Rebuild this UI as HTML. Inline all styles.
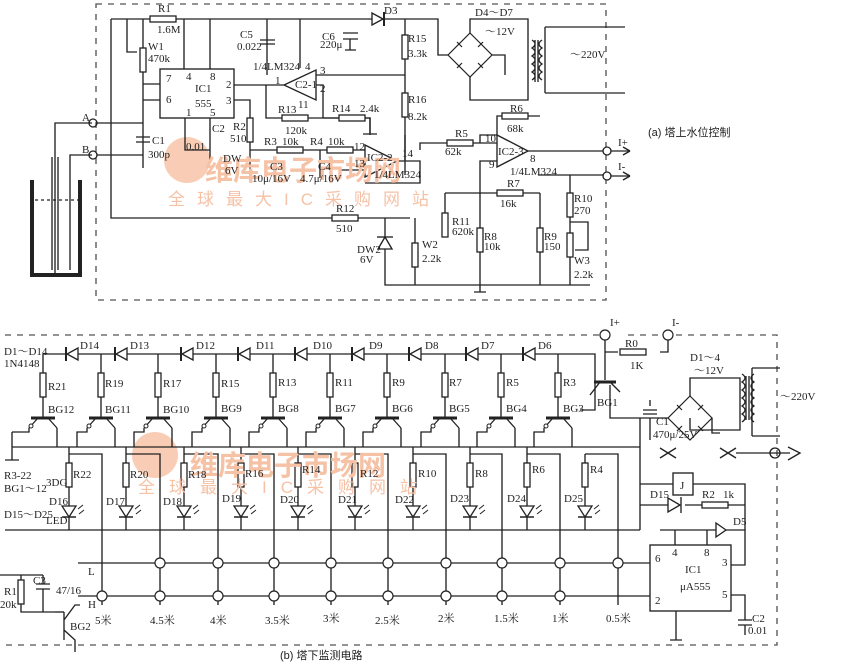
<!DOCTYPE html>
<html><head><meta charset="utf-8"><style>
html,body{margin:0;padding:0;background:#fff;}
svg{display:block;}
text{font-family:"Liberation Serif","Noto Serif CJK SC",serif;font-size:11px;fill:#222;}
.cj{font-family:"Liberation Sans","Noto Sans CJK SC",sans-serif;}
.wm{fill:#f6c2a6;font-family:"Liberation Sans","Noto Sans CJK SC",sans-serif;}
</style></head><body>
<svg width="850" height="662" viewBox="0 0 850 662" xmlns="http://www.w3.org/2000/svg">
<defs>
<g id="rv"><rect x="-3" y="-12" width="6" height="24" fill="#fff" stroke="#222" stroke-width="1.3"/></g>
<g id="rh"><rect x="-13" y="-3" width="26" height="6" fill="#fff" stroke="#222" stroke-width="1.3"/></g>
<g id="dl"><polygon points="6,-6 6,6 -5,0" fill="#fff" stroke="#222" stroke-width="1.3"/><line x1="-6" y1="-7" x2="-6" y2="7" stroke="#222" stroke-width="2"/></g>
<g id="led"><polygon points="-7,-5 7,-5 0,6" fill="#fff" stroke="#222" stroke-width="1.3"/><line x1="-7" y1="6" x2="7" y2="6" stroke="#222" stroke-width="1.5"/><path d="M9,-2 l5,-4 M10,3 l5,-4" stroke="#222" stroke-width="1"/></g>
<g id="npn"><line x1="-12" y1="0" x2="12" y2="0" stroke="#222" stroke-width="3"/><path d="M-5,0 L-14,10 M5,0 L14,10" stroke="#222" stroke-width="1.3" fill="none"/><circle cx="-12" cy="8" r="2" fill="#fff" stroke="#222"/></g>
<g id="oc"><circle r="5" fill="#fff" stroke="#222" stroke-width="1.2"/></g>
<g id="br"><polygon points="0,-22 22,0 0,22 -22,0" fill="none" stroke="#222" stroke-width="1.2"/><g stroke="#222" stroke-width="1.2"><path d="M-13,-13 l5,5 M13,-13 l-5,5 M-13,13 l5,-5 M13,13 l-5,-5"/></g></g>
</defs>
<!-- watermark logos -->
<circle cx="187" cy="160" r="23" fill="#f9cdb5"/>
<circle cx="155" cy="455" r="23" fill="#f9cdb5"/>
<g stroke="#222" stroke-width="1.35" fill="none">
<!-- ===== Part (a) ===== -->
<rect x="96" y="4" width="510" height="296" stroke-dasharray="6,6" stroke="#555"/>
<path d="M111,19 H372 M384,19 H405"/>
<path d="M405,19 V170 M405,170 V175"/>
<path d="M111,19 V218 H410 M405,218"/>
<path d="M127,19 V52 H137 M143,19 V125"/>
<path d="M143,84 H160 M143,100 H160"/>
<path d="M184,19 V69 M210,19 V69"/>
<rect x="160" y="69" width="74" height="49"/>
<path d="M234,85 H284 M266,85 V118 H290 M323,118 V85 H316 M323,118 H370 V135"/>
<path d="M234,100 H250 V118 V150"/>
<path d="M185,118 V150 H210 M210,118 V160"/>
<path d="M267,19 V75 M300,19 V68"/>
<path d="M143,125 V168 M143,140 V168"/>
<polygon points="284,85 316,70 316,100" fill="#fff"/>
<path d="M316,75 H405"/>
<path d="M260,40 H275 M260,44 H275"/>
<path d="M343,33 H358 M343,39 H358 M350,39 V50 M345,50 H356"/>
<polygon points="372,13 372,25 383,19" fill="#fff"/><path d="M384,12 V26" stroke-width="2"/>
<path d="M405,19 H438 V55 H448 M470,33 V19 H528 V100 H470 V77 M492,55 H505 V75"/>
<path d="M545,27 V93 M545,27 H625 M545,93 H625"/>
<path d="M532,40 q6,4 0,8 q6,4 0,8 q6,4 0,8 q6,4 0,8 q6,4 0,8 M542,40 q-6,4 0,8 q-6,4 0,8 q-6,4 0,8 q-6,4 0,8 q-6,4 0,8 M535,40 V82 M538,40 V82"/>
<path d="M300,118 H370 V134 M363,134 H377"/>
<path d="M250,150 H365 M250,150 V180 M320,150 V178"/>
<polygon points="365,145 365,177 397,161" fill="#fff"/>
<path d="M397,161 H420 V183 H365 M340,170 H365 M405,135 V160"/>
<path d="M420,150 V143 H480 M480,143 V135 H497 V116 H540 M480,143 H497"/>
<polygon points="497,135 497,167 528,151" fill="#fff"/>
<path d="M528,151 H603 M611,151 H630 M611,176 H630 M497,161 H480 V285"/>
<path d="M538,175 H603 M570,175 V285 M540,193 V285 M445,193 H540 M445,193 V220"/>
<path d="M385,218 V285 H590 M415,218 V285 M570,222 H588 V250 H575"/>
<path d="M480,285 V292 M474,292 H486"/>
<circle cx="607" cy="151" r="4" fill="#fff"/><circle cx="607" cy="176" r="4" fill="#fff"/>
<path d="M630,151 l-7,-4 M630,151 l-7,4 M630,176 l-7,-4 M630,176 l-7,4"/>
<path d="M92,123 H55 V275 M92,155 H70 V270"/>
<path d="M32,180 V275 H80 V180" stroke-width="4"/>
<path d="M52,157 V270 M58,157 V270"/>
<path d="M35,200 H78" stroke-dasharray="3,3"/>
<circle cx="93" cy="123" r="4"/><circle cx="93" cy="155" r="4"/>
<path d="M97,123 H143 M97,155 H143"/>
<path d="M136,137 H150 M136,142 H150"/>
<polygon points="385,237 378,249 392,249" fill="#fff"/><path d="M377,237 H393"/>

<!-- ===== Part (b) ===== -->
<path d="M5,335 H610 M628,335 H777 V645 H0" stroke-dasharray="6,6" stroke="#555"/>
<path d="M43,354 H595 V410 H580"/>
<path d="M43,354 V418 M101,354 V418 M158,354 V418 M216,354 V418 M273,354 V418 M330,354 V418 M387,354 V418 M445,354 V418 M501,354 V418 M558,354 V418"/>
<path d="M12,447 H640 M12,432 V460 M5,460 H19"/>
<path d="M57,428 V447 M115,428 V447 M172,428 V447 M230,428 V447 M287,428 V447 M344,428 V447 M401,428 V447 M459,428 V447 M515,428 V447 M572,428 V447"/>
<path d="M29,428 V432 H12 M87,428 V432 H77 V447 M144,428 V432 H134 V447 M202,428 V432 H192 V447 M259,428 V432 H249 V447 M316,428 V432 H306 V447 M373,428 V432 H363 V447 M431,428 V432 H421 V447 M487,428 V432 H477 V447 M544,428 V432 H534 V447"/>
<path d="M69,447 V530 M126,447 V530 M184,447 V530 M241,447 V530 M298,447 V530 M355,447 V530 M413,447 V530 M470,447 V530 M527,447 V530 M585,454 V530"/>
<path d="M5,530 H640"/>
<path d="M69,454 H102 V605 M126,454 H160 V605 M184,454 H218 V605 M241,454 H274 V605 M298,454 H331 V605 M355,454 H388 V605 M413,454 H446 V605 M470,454 H502 V605 M527,454 H560 V605 M585,454 H618 V605"/>
<path d="M78,563 H650 M78,596 H650 M0,575 H43"/>
<rect x="650" y="545" width="81" height="66"/>
<path d="M675,530 V545 M707,530 V545 M660,530 H745 V565 H731 M731,595 H745 V620 M738,620 H752 M738,625 H752 M745,625 V635 M676,611 V640 M670,640 H682"/>
<path d="M605,335 V380 M605,352 H618 M660,352 H668 V335 M610,385 V418 H625 M625,418 H665 M640,418 V530 M640,484 H673 M693,484 H745 V530 M640,505 H668 M685,505 H745"/>
<line x1="594" y1="382" x2="616" y2="382" stroke-width="3"/>
<path d="M600,382 L590,395 M610,382 L620,392"/>
<path d="M650,418 V440 M643,410 H657 M643,414 H657 M650,400 V406"/>
<path d="M665,418 H668 M712,418 V433 H720 M690,396 V378 H740 V430 H690 V418"/>
<path d="M752,368 V436 M752,368 H780 M752,436 H780"/>
<path d="M742,374 q6,4 0,8 q6,4 0,8 q6,4 0,8 q6,4 0,8 q6,4 0,8 q6,4 0,8 M754,374 q-6,4 0,8 q-6,4 0,8 q-6,4 0,8 q-6,4 0,8 q-6,4 0,8 q-6,4 0,8 M746,376 V420 M749,376 V420"/>
<rect x="673" y="473" width="20" height="22" fill="#fff"/>
<polygon points="668,498 668,512 680,505" fill="#fff"/><path d="M681,497 V513"/>
<polygon points="726,530 716,523 716,537" fill="#fff"/>
<path d="M660,448 L676,458 M660,458 L676,448 M720,448 L736,458 M720,458 L736,448 M736,453 H790 M788,447 L800,453 L788,460"/>
<circle cx="775" cy="453" r="5"/>
<path d="M21,575 V612 H55 M43,575 V584 M36,584 H50 M36,589 H50 M43,589 V612 M64,612 V640 M64,620 L75,605 H80 M64,630 L75,640 V652"/>
<path d="M55,612 H64"/>
</g>
<g>
<use href="#rh" x="163" y="19"/><use href="#rv" x="143" y="60"/>
<use href="#rv" x="405" y="47"/><use href="#rv" x="405" y="105"/>
<use href="#rh" x="295" y="118"/><use href="#rh" x="352" y="118"/>
<use href="#rv" x="250" y="130"/><use href="#rh" x="290" y="150"/><use href="#rh" x="340" y="150"/>
<use href="#rh" x="460" y="143"/><use href="#rh" x="515" y="116"/><use href="#rh" x="510" y="193"/>
<use href="#rh" x="345" y="218"/><use href="#rv" x="445" y="225"/><use href="#rv" x="480" y="240"/>
<use href="#rv" x="540" y="240"/><use href="#rv" x="570" y="205"/><use href="#rv" x="570" y="245"/>
<use href="#rv" x="415" y="255"/>
<use href="#br" x="470" y="55"/><use href="#br" x="690" y="418"/>
<use href="#dl" x="72" y="354"/><use href="#dl" x="121" y="354"/><use href="#dl" x="187" y="354"/><use href="#dl" x="244" y="354"/><use href="#dl" x="301" y="354"/><use href="#dl" x="358" y="354"/><use href="#dl" x="415" y="354"/><use href="#dl" x="472" y="354"/><use href="#dl" x="529" y="354"/>
<use href="#rv" x="43" y="385"/><use href="#rv" x="101" y="385"/><use href="#rv" x="158" y="385"/><use href="#rv" x="216" y="385"/><use href="#rv" x="273" y="385"/><use href="#rv" x="330" y="385"/><use href="#rv" x="387" y="385"/><use href="#rv" x="445" y="385"/><use href="#rv" x="501" y="385"/><use href="#rv" x="558" y="385"/>
<use href="#npn" x="43" y="418"/><use href="#npn" x="101" y="418"/><use href="#npn" x="158" y="418"/><use href="#npn" x="216" y="418"/><use href="#npn" x="273" y="418"/><use href="#npn" x="330" y="418"/><use href="#npn" x="387" y="418"/><use href="#npn" x="445" y="418"/><use href="#npn" x="501" y="418"/><use href="#npn" x="558" y="418"/>
<use href="#rv" x="69" y="475"/><use href="#rv" x="126" y="475"/><use href="#rv" x="184" y="475"/><use href="#rv" x="241" y="475"/><use href="#rv" x="298" y="475"/><use href="#rv" x="355" y="475"/><use href="#rv" x="413" y="475"/><use href="#rv" x="470" y="475"/><use href="#rv" x="527" y="475"/><use href="#rv" x="585" y="475"/>
<use href="#led" x="69" y="511"/><use href="#led" x="126" y="511"/><use href="#led" x="184" y="511"/><use href="#led" x="241" y="511"/><use href="#led" x="298" y="511"/><use href="#led" x="355" y="511"/><use href="#led" x="413" y="511"/><use href="#led" x="470" y="511"/><use href="#led" x="527" y="511"/><use href="#led" x="585" y="511"/>
<use href="#oc" x="160" y="563"/><use href="#oc" x="218" y="563"/><use href="#oc" x="274" y="563"/><use href="#oc" x="331" y="563"/><use href="#oc" x="388" y="563"/><use href="#oc" x="446" y="563"/><use href="#oc" x="502" y="563"/><use href="#oc" x="560" y="563"/><use href="#oc" x="618" y="563"/>
<use href="#oc" x="102" y="596"/><use href="#oc" x="160" y="596"/><use href="#oc" x="218" y="596"/><use href="#oc" x="274" y="596"/><use href="#oc" x="331" y="596"/><use href="#oc" x="388" y="596"/><use href="#oc" x="446" y="596"/><use href="#oc" x="502" y="596"/><use href="#oc" x="560" y="596"/>
<use href="#rh" x="633" y="352"/><use href="#rh" x="715" y="505"/><use href="#rv" x="21" y="592"/>
<use href="#oc" x="605" y="335"/><use href="#oc" x="668" y="335"/>
</g>
<text class="wm" x="205" y="180" style="font-size:28px;font-weight:bold">维库电子市场网</text>
<text class="wm" x="168" y="205" style="font-size:17px;letter-spacing:12px">全球最大IC采购网站</text>
<text class="wm" x="190" y="475" style="font-size:28px;font-weight:bold">维库电子市场网</text>
<text class="wm" x="138" y="493" style="font-size:17px;letter-spacing:14px">全球最大IC采购网站</text>
<text x="158" y="12">R1</text><text x="157" y="33">1.6M</text>
<text x="148" y="50">W1</text><text x="148" y="62">470k</text>
<text x="240" y="38">C5</text><text x="237" y="50">0.022</text>
<text x="322" y="40">C6</text><text x="320" y="48">220μ</text>
<text x="384" y="14">D3</text><text x="408" y="42">R15</text><text x="408" y="57">3.3k</text>
<text x="408" y="103">R16</text><text x="408" y="120">8.2k</text>
<text x="475" y="16">D4～D7</text><text x="485" y="35">～12V</text><text x="570" y="58">～220V</text>
<text x="166" y="82">7</text><text x="166" y="103">6</text><text x="186" y="80">4</text><text x="210" y="80">8</text>
<text x="195" y="92">IC1</text><text x="195" y="107">555</text><text x="226" y="88">2</text><text x="226" y="104">3</text>
<text x="186" y="116">1</text><text x="210" y="116">5</text>
<text x="253" y="70">1/4LM324</text><text x="305" y="70">4</text><text x="320" y="74">3</text><text x="320" y="92">2</text>
<text x="275" y="84">1</text><text x="295" y="88">C2-1</text><text x="298" y="108">11</text>
<text x="278" y="113">R13</text><text x="285" y="134">120k</text><text x="332" y="112">R14</text><text x="360" y="112">2.4k</text>
<text x="212" y="132">C2</text><text x="186" y="150">0.01</text><text x="233" y="130">R2</text><text x="230" y="142">510</text>
<text x="152" y="144">C1</text><text x="148" y="158">300p</text><text x="82" y="121">A</text><text x="82" y="153">B</text>
<text x="264" y="145">R3</text><text x="282" y="145">10k</text><text x="310" y="145">R4</text><text x="328" y="145">10k</text>
<text x="223" y="162">DW</text><text x="225" y="174">6V</text><text x="270" y="170">C3</text><text x="252" y="182">10μ/16V</text>
<text x="318" y="170">C4</text><text x="300" y="182">4.7μ/16V</text>
<text x="354" y="150">12</text><text x="354" y="167">13</text><text x="367" y="161">IC2-2</text><text x="402" y="157">14</text><text x="374" y="178">1/4LM324</text>
<text x="455" y="137">R5</text><text x="445" y="155">62k</text><text x="510" y="112">R6</text><text x="507" y="132">68k</text>
<text x="485" y="142">10</text><text x="498" y="155">IC2-3</text><text x="489" y="168">9</text><text x="530" y="162">8</text><text x="510" y="175">1/4LM324</text>
<text x="618" y="146">I+</text><text x="618" y="170">I-</text>
<text x="507" y="187">R7</text><text x="500" y="207">16k</text>
<text x="336" y="212">R12</text><text x="336" y="232">510</text>
<text x="452" y="225">R11</text><text x="452" y="235">620k</text><text x="484" y="240">R8</text><text x="484" y="250">10k</text>
<text x="544" y="240">R9</text><text x="544" y="250">150</text><text x="574" y="202">R10</text><text x="574" y="214">270</text>
<text x="574" y="264">W3</text><text x="574" y="278">2.2k</text><text x="422" y="248">W2</text><text x="422" y="262">2.2k</text>
<text x="357" y="253">DW2</text><text x="360" y="263">6V</text>
<text class="cj" x="648" y="136" style="font-size:11px">(a) 塔上水位控制</text>
<text x="4" y="355">D1～D14</text><text x="4" y="367">1N4148</text>
<text x="80" y="349">D14</text><text x="130" y="349">D13</text><text x="196" y="349">D12</text><text x="256" y="349">D11</text><text x="313" y="349">D10</text><text x="369" y="349">D9</text><text x="425" y="349">D8</text><text x="481" y="349">D7</text><text x="538" y="349">D6</text>
<text x="48" y="390">R21</text><text x="105" y="387">R19</text><text x="163" y="387">R17</text><text x="221" y="387">R15</text><text x="278" y="386">R13</text><text x="335" y="386">R11</text><text x="392" y="386">R9</text><text x="449" y="386">R7</text><text x="506" y="386">R5</text><text x="563" y="386">R3</text>
<text x="48" y="413">BG12</text><text x="105" y="413">BG11</text><text x="163" y="413">BG10</text><text x="221" y="412">BG9</text><text x="278" y="412">BG8</text><text x="335" y="412">BG7</text><text x="392" y="412">BG6</text><text x="449" y="412">BG5</text><text x="506" y="412">BG4</text><text x="563" y="412">BG3</text>
<text x="4" y="479">R3-22</text><text x="4" y="492">BG1～12</text><text x="46" y="486">3DG</text>
<text x="73" y="478">R22</text><text x="130" y="478">R20</text><text x="188" y="478">R18</text><text x="245" y="477">R16</text><text x="302" y="473">R14</text><text x="360" y="477">R12</text><text x="418" y="477">R10</text><text x="475" y="477">R8</text><text x="532" y="473">R6</text><text x="590" y="473">R4</text>
<text x="49" y="505">D16</text><text x="106" y="505">D17</text><text x="163" y="505">D18</text><text x="222" y="502">D19</text><text x="280" y="503">D20</text><text x="338" y="503">D21</text><text x="395" y="503">D22</text><text x="450" y="502">D23</text><text x="507" y="502">D24</text><text x="564" y="502">D25</text>
<text x="4" y="518">D15～D25</text><text x="46" y="524">LED</text>
<text x="88" y="575">L</text><text x="88" y="608">H</text>
<text x="4" y="595">R1</text><text x="0" y="608">20k</text><text x="33" y="584">C3</text><text x="56" y="594">47/16</text><text x="70" y="630">BG2</text>
<text x="95" y="624">5米</text><text x="150" y="624">4.5米</text><text x="210" y="624">4米</text><text x="265" y="624">3.5米</text><text x="323" y="622">3米</text><text x="375" y="624">2.5米</text><text x="438" y="622">2米</text><text x="494" y="622">1.5米</text><text x="552" y="622">1米</text><text x="606" y="622">0.5米</text>
<text x="610" y="326">I+</text><text x="672" y="326">I-</text><text x="625" y="347">R0</text><text x="630" y="369">1K</text>
<text x="690" y="361">D1～4</text><text x="694" y="374">～12V</text><text x="780" y="400">～220V</text>
<text x="597" y="406">BG1</text><text x="656" y="425">C1</text><text x="653" y="438">470μ/25V</text>
<text x="680" y="489">J</text><text x="650" y="498">D15</text><text x="702" y="498">R2</text><text x="723" y="498">1k</text><text x="733" y="525">D5</text>
<text x="655" y="562">6</text><text x="672" y="556">4</text><text x="704" y="556">8</text><text x="722" y="566">3</text><text x="685" y="573">IC1</text><text x="680" y="590">μA555</text><text x="655" y="604">2</text><text x="722" y="598">5</text>
<text x="752" y="622">C2</text><text x="748" y="634">0.01</text>
<text class="cj" x="280" y="659" style="font-size:11px">(b) 塔下监测电路</text>
</svg>
</body></html>
